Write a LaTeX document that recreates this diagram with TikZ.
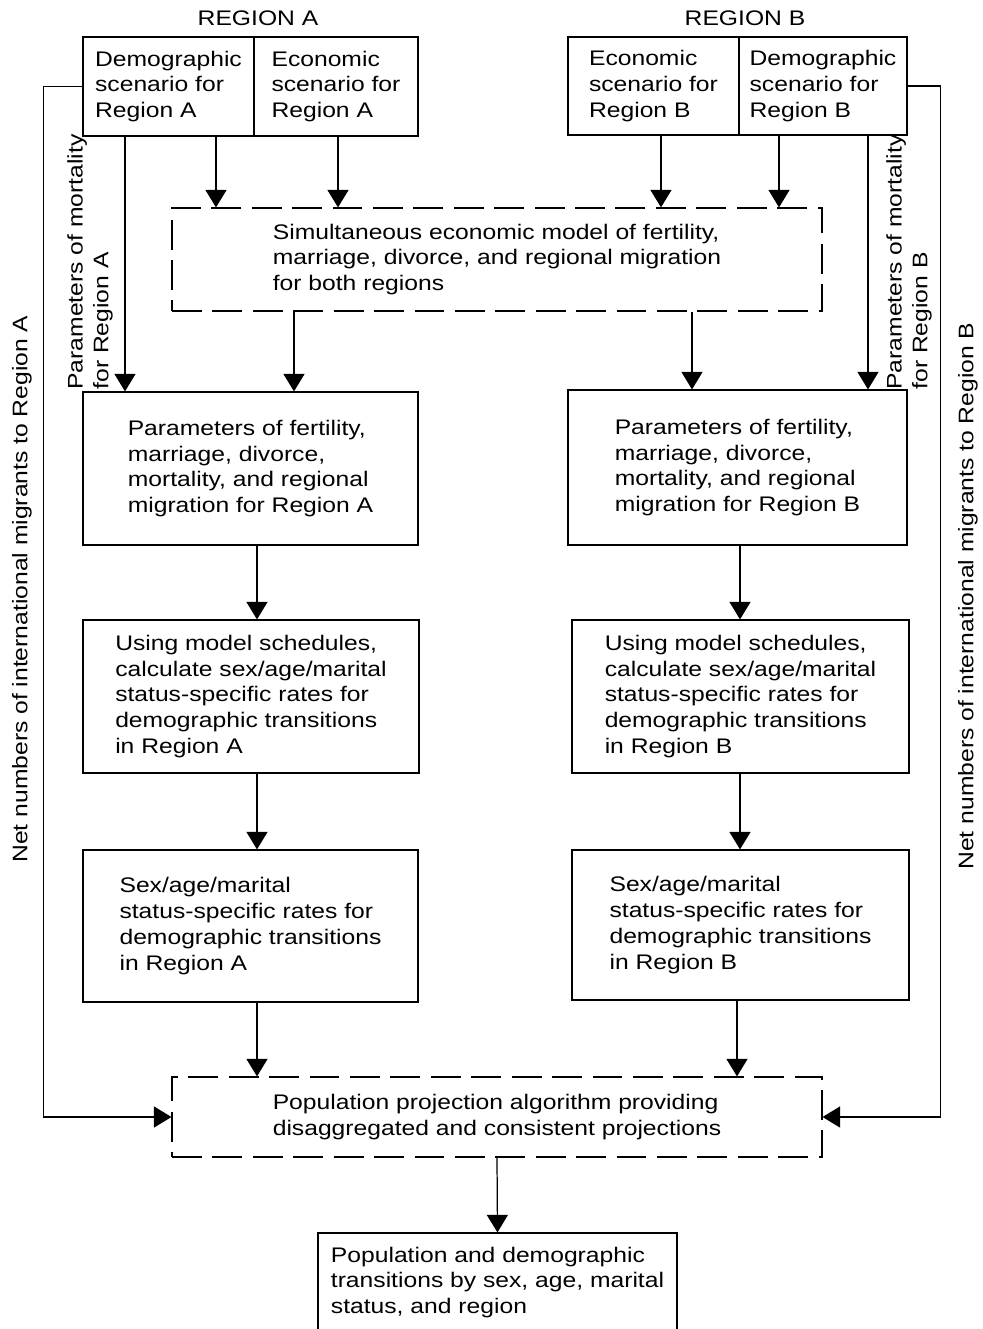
\documentclass[tikz,border=0pt]{standalone}
\usepackage{fontspec}
\setmainfont{Liberation Sans}[FakeStretch=1.17]
\usetikzlibrary{arrows.meta}

\begin{document}
\begin{tikzpicture}[x=0.02cm, y=-0.02cm, line width=0.7pt,
    box/.style={rectangle, draw, align=left, inner sep=0pt},
    dbox/.style={box, dash pattern=on 17pt off 6pt},
    side/.style={rotate=90, align=left},
    >={Triangle[width=12pt,length=10pt]},
    font=\fontsize{12}{14.7}\selectfont]

  \useasboundingbox (0,0) rectangle (983,1329);

  \node (hdA) at (258,18) {REGION A};
  \node (hdB) at (745,18) {REGION B};

  \node[box, minimum width=3.42cm, minimum height=1.98cm] (demA) at (168.5,86.5) {Demographic\\scenario for\\Region A};
  \node[box, minimum width=3.28cm, minimum height=1.98cm] (ecoA) at (336,86.5) {Economic\\scenario for\\Region A};
  \node[box, minimum width=3.42cm, minimum height=1.96cm] (ecoB) at (653.5,86) {Economic\\scenario for\\Region B};
  \node[box, minimum width=3.36cm, minimum height=1.96cm] (demB) at (823,86) {Demographic\\scenario for\\Region B};

  \node[dbox, minimum width=13cm, minimum height=2.06cm] (model) at (497,259.5) {Simultaneous economic model of fertility,\\marriage, divorce, and regional migration\\for both regions};

  \node[box, minimum width=6.7cm, minimum height=3.06cm] (parA) at (250.5,468.5) {Parameters of fertility,\\marriage, divorce,\\mortality, and regional\\migration for Region A};
  \node[box, minimum width=6.78cm, minimum height=3.1cm] (parB) at (737.5,467.5) {Parameters of fertility,\\marriage, divorce,\\mortality, and regional\\migration for Region B};

  \node[box, minimum width=6.72cm, minimum height=3.06cm] (useA) at (251,696.5) {Using model schedules,\\calculate sex/age/marital\\status-specific rates for\\demographic transitions\\in Region A};
  \node[box, minimum width=6.74cm, minimum height=3.06cm] (useB) at (740.5,696.5) {Using model schedules,\\calculate sex/age/marital\\status-specific rates for\\demographic transitions\\in Region B};

  \node[box, minimum width=6.7cm, minimum height=3.04cm] (sexA) at (250.5,926) {Sex/age/marital\\status-specific rates for\\demographic transitions\\in Region A};
  \node[box, minimum width=6.74cm, minimum height=3cm] (sexB) at (740.5,925) {Sex/age/marital\\status-specific rates for\\demographic transitions\\in Region B};

  \node[dbox, minimum width=13cm, minimum height=1.6cm] (pop) at (497,1117) {Population projection algorithm providing\\disaggregated and consistent projections};

  \node[box, minimum width=7.18cm, minimum height=1.98cm] (res) at (497.5,1282.5) {Population and demographic\\transitions by sex, age, marital\\status, and region};

  \node[side] (mortA) at (90,262) {Parameters of mortality\\for Region A};
  \node[side] (mortB) at (909,262) {Parameters of mortality\\for Region B};
  \node[side] (netA) at (22,589) {Net numbers of international migrants to Region A};
  \node[side] (netB) at (968,596) {Net numbers of international migrants to Region B};

  \draw[->] (125,0 |- demA.south) -- (125,0 |- parA.north);
  \draw[->] (216,0 |- demA.south) -- (216,0 |- model.north);
  \draw[->] (338,0 |- ecoA.south) -- (338,0 |- model.north);
  \draw[->] (661,0 |- ecoB.south) -- (661,0 |- model.north);
  \draw[->] (779,0 |- demB.south) -- (779,0 |- model.north);
  \draw[->] (868,0 |- demB.south) -- (868,0 |- parB.north);

  \draw[->] (294,0 |- model.south) -- (294,0 |- parA.north);
  \draw[->] (692,0 |- model.south) -- (692,0 |- parB.north);

  \draw[->] (257,0 |- parA.south) -- (257,0 |- useA.north);
  \draw[->] (740,0 |- parB.south) -- (740,0 |- useB.north);
  \draw[->] (257,0 |- useA.south) -- (257,0 |- sexA.north);
  \draw[->] (740,0 |- useB.south) -- (740,0 |- sexB.north);
  \draw[->] (257,0 |- sexA.south) -- (257,0 |- pop.north);
  \draw[->] (737,0 |- sexB.south) -- (737,0 |- pop.north);
  \draw[->] (pop.south) -- (res.north);

  \draw[->] (demA.west) -- ++(-39,0) |- (pop.west);
  \draw[->] (demB.east) -- ++(33,0) |- (pop.east);

\end{tikzpicture}
\end{document}
